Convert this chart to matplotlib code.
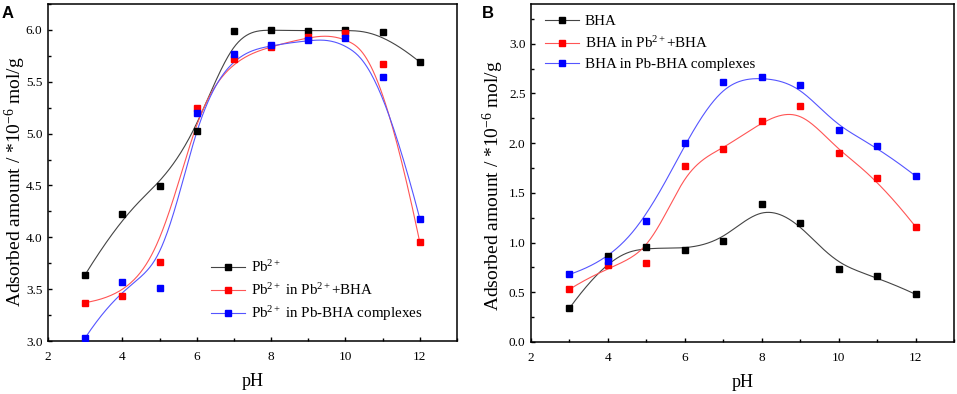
import matplotlib
matplotlib.use("Agg")
import matplotlib.pyplot as plt
from matplotlib.ticker import MultipleLocator, FormatStrFormatter
from matplotlib.lines import Line2D
import numpy as np

plt.rcParams['font.family'] = ['Liberation Serif', 'DejaVu Serif']
plt.rcParams['mathtext.fontset'] = 'custom'
plt.rcParams['mathtext.rm'] = 'Liberation Serif'
plt.rcParams['mathtext.it'] = 'Liberation Serif:italic'

ph = [3, 4, 5, 6, 7, 8, 9, 10, 11, 12]

# panel A: Pb2+ adsorbed
pb_alone = [3.64, 4.22, 4.49, 5.03, 5.99, 6.00, 5.99, 6.00, 5.98, 5.69]
pb_mix = [3.37, 3.43, 3.76, 5.25, 5.72, 5.84, 5.93, 5.97, 5.67, 3.95]
pb_complex = [3.03, 3.57, 3.51, 5.20, 5.77, 5.85, 5.90, 5.92, 5.55, 4.18]

# panel B: BHA adsorbed
bha_alone = [0.34, 0.87, 0.96, 0.93, 1.02, 1.39, 1.20, 0.73, 0.66, 0.48]
bha_mix = [0.53, 0.77, 0.79, 1.77, 1.94, 2.22, 2.37, 1.90, 1.65, 1.16]
bha_complex = [0.68, 0.81, 1.22, 2.00, 2.62, 2.67, 2.59, 2.13, 1.97, 1.67]

labels_a = ['Pb$^{2+}$', 'Pb$^{2+}$ in Pb$^{2+}$+BHA', 'Pb$^{2+}$ in Pb-BHA complexes']
labels_b = ['BHA', 'BHA in Pb$^{2+}$+BHA', 'BHA in Pb-BHA complexes']
colors = ['#000000', '#ff0000', '#0000ff']
line_colors = ['#444444', '#ff5555', '#5555ff']


def bspline(x, y, n=400):
    # clamped uniform cubic B-spline using the data points as control points
    P = np.column_stack([x, y]).astype(float)
    m = len(P)
    k = 3
    knots = np.concatenate([[0] * k, np.arange(m - k + 1), [m - k] * k]).astype(float)
    t = np.linspace(0, m - k, n)
    t[-1] -= 1e-9
    # degree 0 basis
    B = np.zeros((n, len(knots) - 1))
    for i in range(len(knots) - 1):
        B[:, i] = (t >= knots[i]) & (t < knots[i + 1])
    for d in range(1, k + 1):
        Bn = np.zeros((n, len(knots) - 1 - d))
        for i in range(len(knots) - 1 - d):
            left = knots[i + d] - knots[i]
            right = knots[i + d + 1] - knots[i + 1]
            term = np.zeros(n)
            if left > 0:
                term += (t - knots[i]) / left * B[:, i]
            if right > 0:
                term += (knots[i + d + 1] - t) / right * B[:, i + 1]
            Bn[:, i] = term
        B = Bn
    C = B @ P
    return C[:, 0], C[:, 1]


W, H = 957, 394
fig = plt.figure(figsize=(W / 100, H / 100), dpi=100)
ax1 = fig.add_axes([48 / W, 1 - 341 / H, 409 / W, 337 / H])
ax2 = fig.add_axes([531 / W, 1 - 342 / H, 423 / W, 338 / H])

for ax, series, labels, ylim, lab_xy in [
    (ax1, [pb_alone, pb_mix, pb_complex], labels_a, (3.0, 6.25), (-0.05, 0.472)),
    (ax2, [bha_alone, bha_mix, bha_complex], labels_b, (0.0, 3.4), (-0.058, 0.462)),
]:
    handles = []
    for vals, c, lc, lab in zip(series, colors, line_colors, labels):
        xs, ys = bspline(ph, vals)
        ax.plot(xs, ys, color=lc, lw=0.8, zorder=2)
        ax.plot(ph, vals, 's', color=c, ms=4.8, zorder=3)
        handles.append(Line2D([], [], color=lc, lw=0.8, marker='s', mfc=c, mec=c, ms=4.8, label=lab))
    ax.set_xlim(2, 13)
    ax.set_ylim(*ylim)
    ax.set_xticks([2, 4, 6, 8, 10, 12])
    ax.xaxis.set_minor_locator(MultipleLocator(1))
    ax.yaxis.set_major_locator(MultipleLocator(0.5))
    ax.yaxis.set_minor_locator(MultipleLocator(0.25))
    ax.yaxis.set_major_formatter(FormatStrFormatter('%.1f'))
    ax.tick_params(which='both', direction='in', labelsize=9.5, top=False, right=False, width=1)
    ax.tick_params(which='major', length=3)
    ax.tick_params(which='minor', length=2)
    ax.tick_params(axis='x', which='major', pad=7)
    ax.tick_params(axis='y', which='major', pad=4)
    for sp in ax.spines.values():
        sp.set_linewidth(1.1)
    ax.set_xlabel('pH', fontsize=13)
    ax.xaxis.set_label_coords(0.5, -0.095)
    ax.xaxis.label.set_va('top')
    ax.set_ylabel('Adsorbed amount / *10$^{-6}$ mol/g', fontsize=14)
    ax.yaxis.set_label_coords(*lab_xy)
    ax.handles = handles

ax1.legend(handles=ax1.handles, loc='lower left', bbox_to_anchor=(0.365, 0.012), frameon=False,
           fontsize=10.8, handlelength=2.3, labelspacing=0.45, handletextpad=0.4)
ax2.legend(handles=ax2.handles, loc='upper left', bbox_to_anchor=(0.0, 1.008), frameon=False,
           fontsize=10.8, handlelength=2.3, labelspacing=0.45, handletextpad=0.4)

fig.text(0.002, 0.985, 'A', fontsize=12, fontweight='bold', family='Liberation Sans', va='top')
fig.text(0.504, 0.985, 'B', fontsize=12, fontweight='bold', family='Liberation Sans', va='top')

fig.savefig('out.png', dpi=100)
